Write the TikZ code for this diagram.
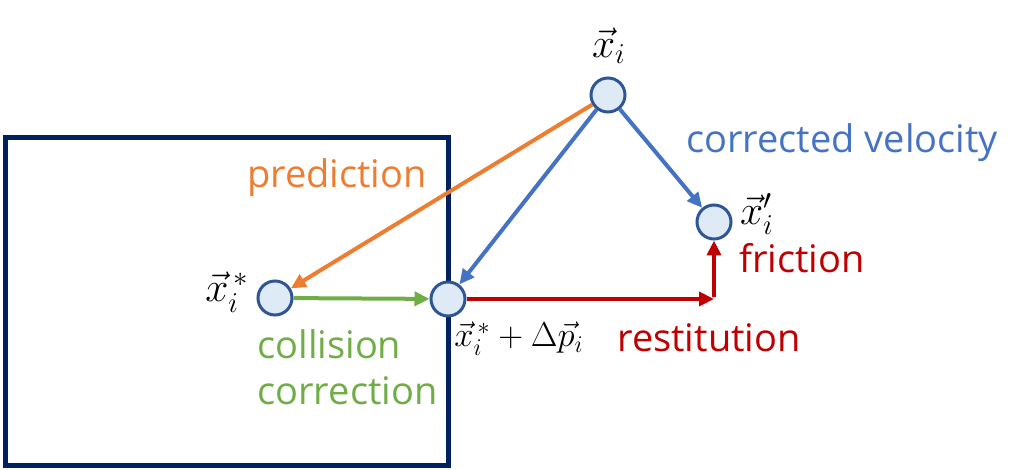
\documentclass[tikz,border=0pt]{standalone}
\usepackage{amsmath}
\usepackage{fontspec}
\setsansfont{Open Sans}
\usetikzlibrary{positioning, arrows.meta}

\definecolor{navy}{HTML}{002060}
\definecolor{ringblue}{HTML}{2F5597}
\definecolor{dotfill}{HTML}{DEEAF6}
\definecolor{predorange}{HTML}{ED7D31}
\definecolor{velblue}{HTML}{4472C4}
\definecolor{collgreen}{HTML}{70AD47}
\definecolor{restred}{HTML}{C00000}

\tikzset{
  dot/.style = {circle, draw=ringblue, fill=dotfill, line width=1.5pt, minimum size=17pt, inner sep=0pt},
  flow/.style = {line width=2pt, -{Triangle[length=7.5pt, width=7pt]}},
  word/.style = {font=\sffamily\fontsize{19}{21}\selectfont, inner sep=0pt},
  vecname/.style = {font=\fontsize{21}{24}\selectfont, inner sep=0pt}
}

\begin{document}
\begin{tikzpicture}[x=0.5pt, y=-0.5pt]
\useasboundingbox (0,0) rectangle (1024,470);
\draw [navy, line width=2.5pt] (5,138) rectangle (448,466);
\node [dot] (xi) at (608,95) {};
\node [dot] (xstar) at (275,298) {};
\node [dot] (xs) at (448,299) {};
\node [dot] (xp) at (714,222) {};
\coordinate (corner) at (714,299);
\node [vecname] (xilab) at (609,46) {$\vec{x}_i$};
\node [vecname] (xstarlab) at (227,292) {$\vec{x}_i^{\,*}$};
\node [vecname, font=\fontsize{18.5}{22}\selectfont] (xslab) at (519,339) {$\vec{x}_i^{\,*} + \Delta\vec{p}_i$};
\node [vecname] (xplab) at (757,214) {$\vec{x}_i'$};
\node [word, text=predorange] (pred) at (337,178) {prediction};
\node [word, text=velblue] (vel) at (842,143) {corrected velocity};
\node [word, text=collgreen, align=left, anchor=north west] (coll) at (257,329) {collision\\[2pt]correction};
\node [word, text=restred] (rest) at (709,338) {restitution};
\node [word, text=restred] (fric) at (802,258) {friction};
\draw [flow, predorange] (xi) -- (xstar);
\draw [flow, velblue] (xi) -- (xs);
\draw [flow, velblue] (xi) -- (xp);
\draw [flow, collgreen] (xstar) -- (xs);
\draw [flow, restred] (xs) -- (corner);
\draw [flow, restred] ([yshift=1pt]corner) -- (xp);
\end{tikzpicture}
\end{document}
